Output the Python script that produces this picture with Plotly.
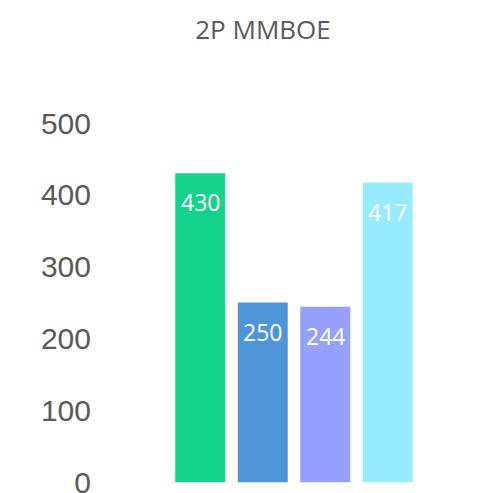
import plotly.graph_objects as go

categories = ["A", "B", "C", "D"]
values = [430, 250, 244, 417]
colors = ["#15D38A", "#4F96D9", "#95A0FF", "#97EBFC"]
tick_vals = [0, 100, 200, 300, 400, 500]
title_text = "2P MMBOE"

# page body adds an 8px offset, so the figure is sized/placed to compensate
W, H = 479, 485

fig = go.Figure()
fig.add_trace(go.Bar(
    x=categories, y=values,
    marker=dict(color=colors, line=dict(width=0)),
    hoverinfo="skip",
))

for c, v in zip(categories, values):
    fig.add_annotation(
        x=c, y=v, text=str(v), showarrow=False,
        yanchor="middle", yshift=-29,
        font=dict(family="Open Sans", size=23, color="#FFFFFF"),
    )

fig.update_layout(
    width=W, height=H,
    margin=dict(l=161, r=68, t=115, b=8, autoexpand=False),
    paper_bgcolor="white", plot_bgcolor="white",
    bargap=0.2,
    showlegend=False,
    title=dict(
        text=title_text, x=(263 - 8) / W, xanchor="center", xref="container",
        y=1 - (30 - 8) / H, yanchor="middle", yref="container",
        font=dict(family="Open Sans", size=26, color="#595959"),
    ),
    xaxis=dict(
        range=[-0.5, 3.5], showticklabels=False, showgrid=False,
        zeroline=False, showline=False, ticks="", automargin=False,
    ),
    yaxis=dict(
        range=[-4, 500], tickvals=tick_vals, showgrid=False,
        zeroline=False, showline=False, ticks="", automargin=False,
        ticklabelstandoff=77, ticklabeloverflow="allow",
        tickfont=dict(family="Liberation Sans", size=30, color="#595959"),
    ),
)

fig.write_html("out.html")
